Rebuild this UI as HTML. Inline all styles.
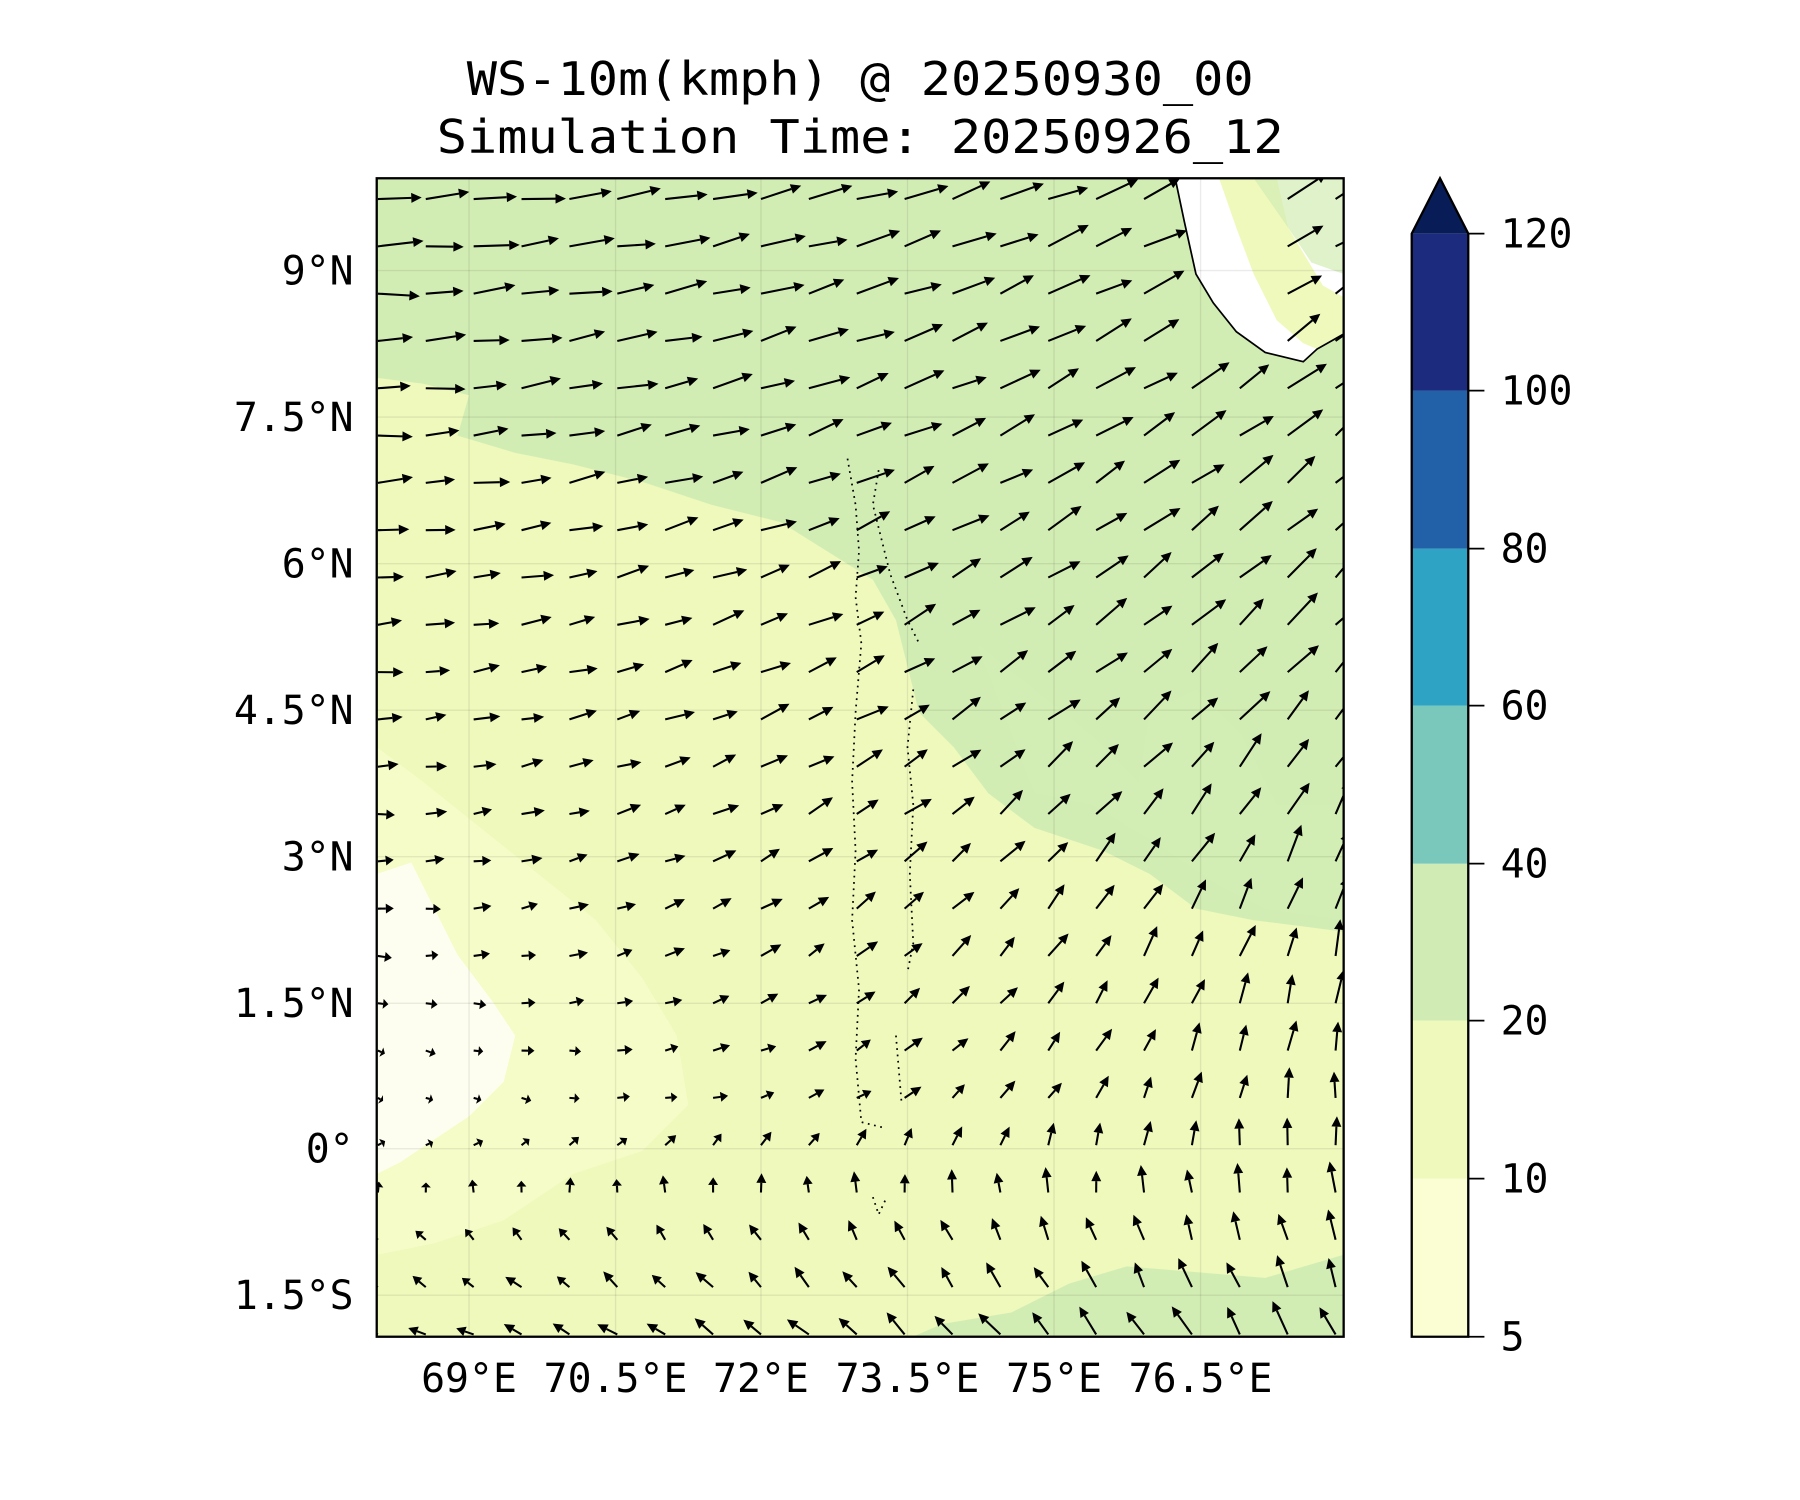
<!DOCTYPE html>
<html><head><meta charset="utf-8"><style>
html,body{margin:0;padding:0;background:#fff;}
svg{display:block;}
text{font-family:"DejaVu Sans Mono","Liberation Mono",monospace;fill:#000;}
</style></head><body>
<svg id="s" width="1800" height="1500" viewBox="0 0 1560 1300" xmlns="http://www.w3.org/2000/svg">
<defs><clipPath id="c"><rect x="330" y="157" width="838" height="1004"/></clipPath></defs>
<g transform="translate(-3.5,-2.5)">
<text x="749" y="85" font-size="40" text-anchor="middle" textLength="682" lengthAdjust="spacingAndGlyphs">WS-10m(kmph) @ 20250930_00</text>
<text x="749" y="135" font-size="40" text-anchor="middle" textLength="734" lengthAdjust="spacingAndGlyphs">Simulation Time: 20250926_12</text>
<g clip-path="url(#c)">
<rect x="330" y="157" width="838" height="1006" fill="#d2edb4"/>
<path fill="#eff9bc" d="M330,330 L370,335 L410,345 L400,380 L450,395 L500,405 L560,420 L620,440 L680,455 L720,480 L760,505 L780,540 L790,580 L800,620 L830,650 L860,690 L900,720 L960,740 L1000,760 L1040,790 L1090,800 L1130,805 L1168,810 L1168,1090 L1100,1110 L1040,1105 L980,1100 L930,1115 L880,1140 L820,1150 L790,1163 L330,1163 Z"/>
<path fill="#d2edb4" opacity="0.9" d="M850,560 L900,600 L950,640 L990,680 L1000,620 L1040,600 L1080,640 L1110,700 L1168,700 L1168,800 L1100,790 L1060,770 L1000,730 L950,700 L900,690 Z"/>
<path fill="#f6fcc8" d="M330,650 L370,680 L420,720 L470,760 L520,800 L560,850 L590,900 L600,960 L560,1000 L500,1020 L440,1060 L380,1080 L330,1090 Z"/>
<path fill="#fefef0" d="M330,760 L360,750 L380,790 L400,830 L430,870 L450,900 L440,940 L410,970 L380,990 L350,1010 L330,1020 Z"/>
<path fill="#fff" d="M1022,157 L1030,195 L1040,240 L1055,265 L1075,290 L1100,308 L1133,316 L1145,305 L1168,292 L1168,157 Z"/>
<path fill="#eff9bc" d="M1060,157 L1110,157 L1120,200 L1150,250 L1168,260 L1168,292 L1145,305 L1133,300 L1110,280 L1090,240 L1075,200 Z"/>
<path fill="#d2edb4" d="M1090,157 L1168,157 L1168,240 L1140,230 L1120,200 Z" opacity="0.7"/>
<path fill="none" stroke="#000" stroke-width="1.5" d="M1022,157 L1030,195 L1040,240 L1055,265 L1075,290 L1100,308 L1133,316 L1145,305 L1168,292"/>
<path fill="none" stroke="#000" stroke-width="1.5" stroke-dasharray="1.5,4" d="M738,400 L745,440 L748,480 L745,520 L750,560 L745,620 L742,680 L745,740 L742,800 L748,860 L745,920 L750,975 L770,980 M765,410 L760,440 L770,480 L775,500 L790,540 L800,560 M795,600 L790,650 L795,700 L792,760 L795,820 L790,845 M780,900 L785,960 M760,1040 L765,1055 L772,1040"/>
<g stroke="#000" stroke-opacity="0.08" stroke-width="1.2">
<line x1="410" y1="157" x2="410" y2="1163"/><line x1="537" y1="157" x2="537" y2="1163"/><line x1="663" y1="157" x2="663" y2="1163"/><line x1="790" y1="157" x2="790" y2="1163"/><line x1="917" y1="157" x2="917" y2="1163"/><line x1="1044" y1="157" x2="1044" y2="1163"/>
<line x1="330" y1="237" x2="1168" y2="237"/><line x1="330" y1="364" x2="1168" y2="364"/><line x1="330" y1="491" x2="1168" y2="491"/><line x1="330" y1="618" x2="1168" y2="618"/><line x1="330" y1="745" x2="1168" y2="745"/><line x1="330" y1="872" x2="1168" y2="872"/><line x1="330" y1="998" x2="1168" y2="998"/><line x1="330" y1="1125" x2="1168" y2="1125"/>
</g>
<g id="arrows"></g>
</g>
<rect x="330" y="157" width="838" height="1004" fill="none" stroke="#000" stroke-width="2"/>
<g font-size="34.5" text-anchor="end">
<text x="310" y="249">9°N</text><text x="310" y="376">7.5°N</text><text x="310" y="503">6°N</text><text x="310" y="630">4.5°N</text><text x="310" y="757">3°N</text><text x="310" y="884">1.5°N</text><text x="310" y="1010">0°</text><text x="310" y="1137">1.5°S</text>
</g>
<g font-size="34.5" text-anchor="middle">
<text x="410" y="1209">69°E</text><text x="537" y="1209">70.5°E</text><text x="663" y="1209">72°E</text><text x="790" y="1209">73.5°E</text><text x="917" y="1209">75°E</text><text x="1044" y="1209">76.5°E</text>
</g>
<g transform="translate(-2,0)">
<rect x="1229" y="1024" width="49" height="137" fill="#fbfed3"/>
<rect x="1229" y="887" width="49" height="137" fill="#eff9bc"/>
<rect x="1229" y="751" width="49" height="136" fill="#d0ecb4"/>
<rect x="1229" y="614" width="49" height="137" fill="#79c8bb"/>
<rect x="1229" y="478" width="49" height="136" fill="#2ea3c4"/>
<rect x="1229" y="341" width="49" height="137" fill="#2260a7"/>
<rect x="1229" y="205" width="49" height="136" fill="#1c2b7d"/>
<path d="M1229,205 L1253.5,157 L1278,205 Z" fill="#081d58"/>
<path d="M1229,1161 L1229,205 L1253.5,157 L1278,205 L1278,1161 Z" fill="none" stroke="#000" stroke-width="2"/>
<g stroke="#000" stroke-width="1.5">
<line x1="1278" y1="205" x2="1292" y2="205"/><line x1="1278" y1="341" x2="1292" y2="341"/><line x1="1278" y1="478" x2="1292" y2="478"/><line x1="1278" y1="614" x2="1292" y2="614"/><line x1="1278" y1="751" x2="1292" y2="751"/><line x1="1278" y1="887" x2="1292" y2="887"/><line x1="1278" y1="1024" x2="1292" y2="1024"/><line x1="1278" y1="1161" x2="1292" y2="1161"/>
</g>
<g font-size="34.5">
<text x="1306" y="217">120</text><text x="1306" y="353">100</text><text x="1306" y="490">80</text><text x="1306" y="626">60</text><text x="1306" y="763">40</text><text x="1306" y="899">20</text><text x="1306" y="1036">10</text><text x="1306" y="1173">5</text>
</g>
</g>
</g>
</svg>
<script>
(function(){
var g=document.getElementById('arrows');
function L(a,b,t){return a+(b-a)*t;}
var kv=[0,0.45,0.65,0.8,0.9,1.0];
var A=[[2,30],[5,50],[0,75],[-30,90],[130,100],[160,115]];
var S=[[38,38],[20,35],[12,30],[5,25],[10,25],[15,30]];
function interp(tab,u,v){for(var k=0;k<kv.length-1;k++){if(v<=kv[k+1]){var t=(v-kv[k])/(kv[k+1]-kv[k]);return L(L(tab[k][0],tab[k][1],u),L(tab[k+1][0],tab[k+1][1],u),t);}}return L(tab[5][0],tab[5][1],u);}
var out='';
for(var j=0;j<25;j++){for(var i=0;i<21;i++){
var x=331+i*41.5,y=175+j*41,u=i/20,v=j/24;
if(x>1025&&y<300&&x<1110)continue;
var a=interp(A,u,v)+(Math.sin(i*1.7+j*2.3)*6),s=interp(S,u,v)*(1+0.1*Math.sin(i*3.1+j*1.3));
var r=a*Math.PI/180,dx=Math.cos(r),dy=-Math.sin(r);
var hl=Math.min(9,s*0.5),hw=4.3;
var x2=x+dx*s,y2=y+dy*s,bx=x2-dx*hl,by=y2-dy*hl,px=-dy,py=dx;
out+='<path d="M'+x.toFixed(1)+','+y.toFixed(1)+'L'+bx.toFixed(1)+','+by.toFixed(1)+'" stroke="#000" stroke-width="1.8"/>';
out+='<path d="M'+x2.toFixed(1)+','+y2.toFixed(1)+'L'+(bx+px*hw).toFixed(1)+','+(by+py*hw).toFixed(1)+'L'+(bx-px*hw).toFixed(1)+','+(by-py*hw).toFixed(1)+'Z" fill="#000"/>';
}}
g.innerHTML=out;
})();
</script>
</body></html>
